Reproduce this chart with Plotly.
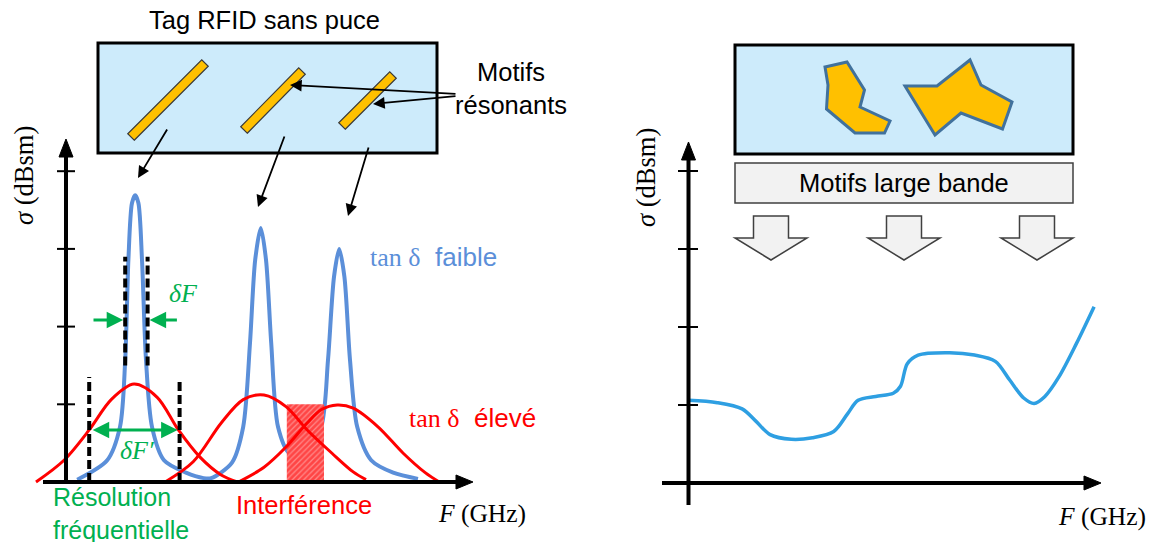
import plotly.graph_objects as go

# ---------------- data ----------------
# Left chart: F in arbitrary units, sigma in tick units
y_ticks = [1, 2, 3, 4]

blue_F = [0.28, 1.03, 1.35, 1.48, 1.56, 1.65, 1.73, 1.81, 1.90, 2.00, 2.15, 2.45, 3.00, 3.44, 3.63,
          4.15, 4.43, 4.60, 4.73, 4.87, 5.00, 5.13, 5.30, 5.58, 5.93, 6.38, 6.55, 6.70, 6.83, 6.96,
          7.10, 7.28, 7.63, 8.18, 8.80]
blue_S = [0.03, 0.28, 0.71, 1.57, 2.86, 3.59, 3.69, 3.59, 2.86, 1.57, 0.71, 0.28, 0.12, 0.05, 0.05,
          0.25, 0.71, 1.79, 2.86, 3.27, 2.86, 1.79, 0.71, 0.37, 0.32, 0.71, 1.57, 2.64, 3.00, 2.64,
          1.57, 0.71, 0.28, 0.12, 0.04]

red1_F = [-0.75, -0.05, 0.58, 1.13, 1.70, 2.28, 2.81, 3.35, 3.88, 4.28]
red1_S = [0.0, 0.28, 0.67, 1.06, 1.26, 1.09, 0.67, 0.32, 0.09, 0.0]
red2_F = [2.48, 3.18, 3.88, 4.43, 4.95, 5.50, 6.03, 6.65, 7.18, 7.50]
red2_S = [0.0, 0.26, 0.76, 1.06, 1.12, 0.97, 0.67, 0.37, 0.13, 0.03]
red3_F = [4.31, 4.95, 5.50, 6.03, 6.38, 6.78, 7.18, 7.80, 8.43, 8.98, 9.33]
red3_S = [0.0, 0.19, 0.45, 0.76, 0.93, 0.99, 0.95, 0.71, 0.37, 0.12, 0.0]

interf_F = [5.52, 6.45]
interf_S = [0.0, 1.0]

dash_inner_F = [1.48, 2.04]
dash_inner_S = [1.50, 2.90]
dash_outer_F = [0.58, 2.84]
dash_outer_S = [[0.0, 1.35], [0.0, 1.29]]

dF_S = 2.085
dFp_S = 0.67

# Right chart
right_ticks = [1, 2, 3, 4]
right_F = [0.0, 0.72, 1.34, 1.69, 2.04, 2.57, 3.10, 3.63, 3.98, 4.24, 4.68, 5.12, 5.30, 5.47, 5.74,
           6.53, 7.15, 7.67, 8.03, 8.38, 8.64, 8.91, 9.26, 9.70, 10.14]
right_S = [1.06, 1.03, 0.95, 0.79, 0.62, 0.56, 0.58, 0.66, 0.89, 1.06, 1.11, 1.15, 1.24, 1.53, 1.64,
           1.67, 1.64, 1.56, 1.32, 1.09, 1.02, 1.11, 1.36, 1.79, 2.26]

# ---------------- layout / styling ----------------
FW, FH = 1152, 542

BLUE = "#5B8FD9"
RED = "#FF0000"
GREEN = "#00B050"
CYAN = "#2E9FE2"
BOXBLUE = "#CDEBFB"
ORANGE = "#FFC000"
SANS = "Liberation Sans, Arial, sans-serif"
SERIF = "Liberation Serif, DejaVu Serif, serif"


def P(x):
    return x / FW


def Q(y):
    return 1 - y / FH


def path(pts):
    return "M " + " L ".join(f"{P(x):.5f},{Q(y):.5f}" for x, y in pts) + " Z"


fig = go.Figure()

# left chart traces
fig.add_trace(go.Scatter(x=blue_F, y=blue_S, mode="lines",
                         line=dict(color=BLUE, width=4, shape="spline", smoothing=0.8),
                         xaxis="x", yaxis="y", hoverinfo="skip"))
hx = [interf_F[0], interf_F[1], interf_F[1], interf_F[0], interf_F[0]]
hy = [interf_S[0], interf_S[0], interf_S[1], interf_S[1], interf_S[0]]
fig.add_trace(go.Scatter(x=hx, y=hy, mode="lines", fill="toself", line=dict(width=0, color=RED),
                         fillcolor="rgba(255,0,0,0)",
                         fillpattern=dict(shape="/", fgcolor=RED, bgcolor="#FF8A8A", size=4, solidity=0.7),
                         xaxis="x", yaxis="y", hoverinfo="skip"))
for fx, sy in [(red1_F, red1_S), (red2_F, red2_S), (red3_F, red3_S)]:
    fig.add_trace(go.Scatter(x=fx, y=sy, mode="lines",
                             line=dict(color=RED, width=3, shape="spline", smoothing=0.9),
                             xaxis="x", yaxis="y", hoverinfo="skip"))
for fx in dash_inner_F:
    fig.add_trace(go.Scatter(x=[fx, fx], y=dash_inner_S, mode="lines",
                             line=dict(color="black", width=4, dash="9px,4px"),
                             xaxis="x", yaxis="y", hoverinfo="skip"))
for fx, sy in zip(dash_outer_F, dash_outer_S):
    fig.add_trace(go.Scatter(x=[fx, fx], y=sy, mode="lines",
                             line=dict(color="black", width=4, dash="9px,4px"),
                             xaxis="x", yaxis="y", hoverinfo="skip"))

# right chart trace
fig.add_trace(go.Scatter(x=right_F, y=right_S, mode="lines",
                         line=dict(color=CYAN, width=3.5, shape="spline", smoothing=0.9),
                         xaxis="x2", yaxis="y2", hoverinfo="skip"))

shapes = []
# --- left: tag box and resonators
shapes.append(dict(type="rect", xref="paper", yref="paper", x0=P(98), x1=P(437), y0=Q(153), y1=Q(43),
                   fillcolor=BOXBLUE, line=dict(color="black", width=3), layer="below"))


def bar(x0, y0, x1, y1, hw=4.6):
    dx, dy = x1 - x0, y1 - y0
    L = (dx * dx + dy * dy) ** 0.5
    nx, ny = -dy / L * hw, dx / L * hw
    return path([(x0 + nx, y0 + ny), (x1 + nx, y1 + ny), (x1 - nx, y1 - ny), (x0 - nx, y0 - ny)])


for b in [(131, 137, 205, 63), (244, 130, 302, 71), (342, 126, 393, 75)]:
    shapes.append(dict(type="path", xref="paper", yref="paper", path=bar(*b), fillcolor=ORANGE,
                       line=dict(color="#3A3A3A", width=1.2)))

# --- left axes
shapes.append(dict(type="line", xref="paper", yref="paper", x0=P(66), x1=P(66), y0=Q(484), y1=Q(154),
                   line=dict(color="black", width=4)))
shapes.append(dict(type="path", xref="paper", yref="paper", path=path([(66, 139), (59, 157), (73, 157)]),
                   fillcolor="black", line=dict(color="black", width=1)))
shapes.append(dict(type="line", xref="paper", yref="paper", x0=P(43), x1=P(458), y0=Q(482), y1=Q(482),
                   line=dict(color="black", width=4)))
shapes.append(dict(type="path", xref="paper", yref="paper", path=path([(473, 482), (456, 475), (456, 489)]),
                   fillcolor="black", line=dict(color="black", width=1)))
for t in y_ticks:
    shapes.append(dict(type="line", xref="paper", yref="y", x0=P(57), x1=P(75), y0=t, y1=t,
                       line=dict(color="black", width=2)))

# --- right: tag box with wideband motifs
shapes.append(dict(type="rect", xref="paper", yref="paper", x0=P(735), x1=P(1073), y0=Q(154), y1=Q(45),
                   fillcolor=BOXBLUE, line=dict(color="black", width=3), layer="below"))
poly1 = [(825, 67), (847, 62), (864.5, 90), (860, 107), (890, 121), (884.5, 133), (855, 133), (826.5, 109), (828, 85)]
poly2 = [(905, 86), (937, 86), (970, 60), (981, 85), (1012, 102), (1002.5, 129), (961, 113), (935, 135)]
for pg in (poly1, poly2):
    shapes.append(dict(type="path", xref="paper", yref="paper", path=path(pg), fillcolor=ORANGE,
                       line=dict(color="#41719C", width=3)))
shapes.append(dict(type="rect", xref="paper", yref="paper", x0=P(735), x1=P(1073), y0=Q(203), y1=Q(163),
                   fillcolor="#F2F2F2", line=dict(color="#404040", width=1.5)))
for c in (771, 904, 1037):
    shapes.append(dict(type="path", xref="paper", yref="paper",
                       path=path([(c - 17.5, 216), (c + 17.5, 216), (c + 17.5, 238), (c + 36, 238), (c, 260),
                                  (c - 36, 238), (c - 17.5, 238)]),
                       fillcolor="#F2F2F2", line=dict(color="#404040", width=1.5)))

# --- right axes
shapes.append(dict(type="line", xref="paper", yref="paper", x0=P(688.5), x1=P(688.5), y0=Q(505), y1=Q(157),
                   line=dict(color="black", width=4)))
shapes.append(dict(type="path", xref="paper", yref="paper", path=path([(688.5, 142), (681.5, 160), (695.5, 160)]),
                   fillcolor="black", line=dict(color="black", width=1)))
shapes.append(dict(type="line", xref="paper", yref="paper", x0=P(662), x1=P(1086), y0=Q(483), y1=Q(483),
                   line=dict(color="black", width=4)))
shapes.append(dict(type="path", xref="paper", yref="paper", path=path([(1101, 483), (1084, 476), (1084, 490)]),
                   fillcolor="black", line=dict(color="black", width=1)))
for t in right_ticks:
    shapes.append(dict(type="line", xref="paper", yref="y2", x0=P(678), x1=P(698), y0=t, y1=t,
                       line=dict(color="black", width=2)))

ann = []


def text(x, y, s, size=25.5, color="black", family=SANS, xanchor="center", align="center", angle=0):
    ann.append(dict(x=P(x), y=Q(y), xref="paper", yref="paper", text=s, showarrow=False,
                    font=dict(size=size, color=color, family=family), xanchor=xanchor, yanchor="middle",
                    align=align, textangle=angle))


def parrow(tx, ty, sx, sy, width=1.8, color="black", size=1.3):
    ann.append(dict(x=P(tx), y=Q(ty), xref="paper", yref="paper", ax=sx - tx, ay=sy - ty, text="",
                    showarrow=True, arrowhead=2, arrowwidth=width, arrowsize=size, arrowcolor=color))


text(264, 20, "Tag RFID sans puce")
text(511, 88, "Motifs<br>résonants")
parrow(290, 85, 457, 94)
parrow(373, 104, 457, 96)
parrow(138, 178, 168, 128)
parrow(258, 207, 285, 135)
parrow(348, 216, 369, 146)

text(24, 176, "<i>σ</i> (dBsm)", size=26.5, family=SERIF, angle=-90)
text(482, 513, "<i>F</i> (GHz)", size=25.5, family=SERIF)
text(646, 178, "<i>σ</i> (dBsm)", size=26.5, family=SERIF, angle=-90)
text(1102, 516, "<i>F</i> (GHz)", size=25.5, family=SERIF)

text(433, 257, f"<span style=\"font-family:{SERIF}\">tan δ</span>  faible", size=26, color=BLUE)
text(472, 418, f"<span style=\"font-family:{SERIF}\">tan δ</span>  élevé", size=26, color=RED)
text(51, 513, "Résolution<br>fréquentielle", size=25, color=GREEN, xanchor="left", align="left")
text(304, 505, "Interférence", size=25.5, color=RED)
text(183, 293, "<i>δF</i>", size=26, color=GREEN, family=SERIF)
text(137, 450, "<i>δF′</i>", size=26, color=GREEN, family=SERIF)
text(904, 183, "Motifs large bande", size=25.5)

# green measurement arrows (data coordinates)
ann.append(dict(x=dash_inner_F[0] - 0.05, y=dF_S, ax=0.65, ay=dF_S, xref="x", yref="y", axref="x", ayref="y",
                text="", showarrow=True, arrowhead=2, arrowwidth=3, arrowsize=1.1, arrowcolor=GREEN))
ann.append(dict(x=dash_inner_F[1] + 0.05, y=dF_S, ax=2.81, ay=dF_S, xref="x", yref="y", axref="x", ayref="y",
                text="", showarrow=True, arrowhead=2, arrowwidth=3, arrowsize=1.1, arrowcolor=GREEN))
ann.append(dict(x=dash_outer_F[1] - 0.05, y=dFp_S, ax=dash_outer_F[0] + 0.05, ay=dFp_S, xref="x", yref="y",
                axref="x", ayref="y", text="", showarrow=True, arrowhead=2, arrowside="end+start",
                arrowwidth=3, arrowsize=1.1, arrowcolor=GREEN))

fig.update_layout(
    width=FW, height=FH, autosize=False, margin=dict(l=0, r=0, t=0, b=0),
    paper_bgcolor="white", plot_bgcolor="rgba(0,0,0,0)", showlegend=False,
    shapes=shapes, annotations=ann,
    xaxis=dict(domain=[0, P(560)], range=[(0 - 66) / 40, (560 - 66) / 40], visible=False, fixedrange=True),
    yaxis=dict(domain=[0, 1], range=[(482 - 542) / 77.7, 482 / 77.7], visible=False, fixedrange=True),
    xaxis2=dict(domain=[P(600), 1], range=[(600 - 688.5) / 40, (1152 - 688.5) / 40], visible=False,
                anchor="y2", fixedrange=True),
    yaxis2=dict(domain=[0, 1], range=[(483 - 542) / 78, 483 / 78], visible=False, anchor="x2",
                fixedrange=True),
)

fig.write_html("out.html", config={"displayModeBar": False},
               post_script="document.body.style.margin='0px';")
